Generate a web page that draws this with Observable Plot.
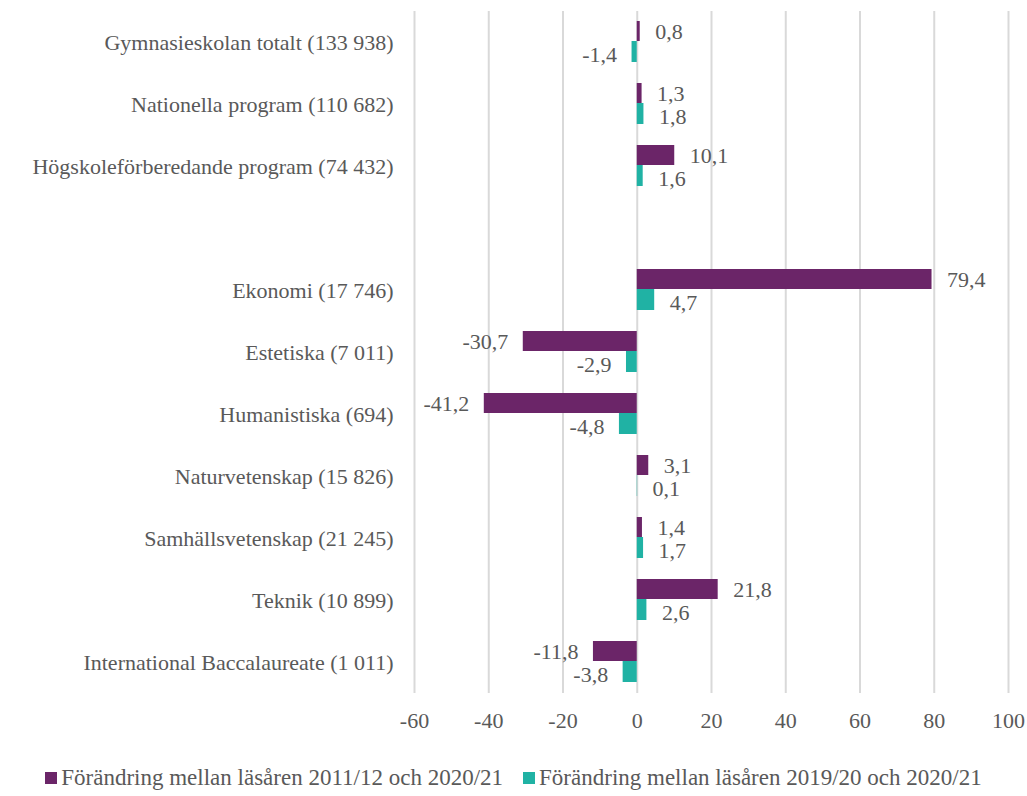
<!DOCTYPE html>
<html>
<head>
<meta charset="utf-8">
<script src="https://cdn.jsdelivr.net/npm/d3@7"></script>
<script src="https://cdn.jsdelivr.net/npm/@observablehq/plot@0.6"></script>
<style>
  body { margin: 0; background: #fff; font-family: "Liberation Serif", "Times New Roman", "DejaVu Serif", serif; color: #595959; }
  #legend { display: flex; justify-content: center; gap: 20px; margin-top: 20px; font-size: 23px; line-height: 26px; white-space: nowrap; }
  .item { display: flex; align-items: center; }
  .sw { width: 12px; height: 12px; margin-right: 4px; display: inline-block; }
  #chart svg, #chart svg text { font-family: "Liberation Serif", "Times New Roman", "DejaVu Serif", serif !important; }
</style>
</head>
<body>
<div id="chart"></div>
<div id="legend"></div>
<script>
const categories = [
  "Gymnasieskolan totalt (133 938)",
  "Nationella program (110 682)",
  "Högskoleförberedande program (74 432)",
  "",
  "Ekonomi (17 746)",
  "Estetiska (7 011)",
  "Humanistiska (694)",
  "Naturvetenskap (15 826)",
  "Samhällsvetenskap (21 245)",
  "Teknik (10 899)",
  "International Baccalaureate (1 011)"
];
const change2011 = [0.8, 1.3, 10.1, null, 79.4, -30.7, -41.2, 3.1, 1.4, 21.8, -11.8];
const change2019 = [-1.4, 1.8, 1.6, null, 4.7, -2.9, -4.8, 0.1, 1.7, 2.6, -3.8];
const seriesNames = [
  "Förändring mellan läsåren 2011/12 och 2020/21",
  "Förändring mellan läsåren 2019/20 och 2020/21"
];
const colors = ["#6B2568", "#20B2A4"];
const xTicks = [-60, -40, -20, 0, 20, 40, 60, 80, 100];

const fmt = v => v.toFixed(1).replace(".", ",");
const rows = categories.map((c, i) => ({category: c, a: change2011[i], b: change2019[i]}));
const dataA = rows.filter(d => d.a != null);
const dataB = rows.filter(d => d.b != null);
const txt = "#595959";
const fs = 22;

const chart = Plot.plot({
  width: 1027,
  height: 745,
  marginLeft: 414,
  marginRight: 19,
  marginTop: 11,
  marginBottom: 52,
  x: {domain: [-60, 100]},
  y: {domain: categories, padding: 0},
  style: {fontSize: "22px", color: txt, background: "#fff"},
  marks: [
    Plot.ruleX(xTicks, {stroke: "#d9d9d9", strokeWidth: 2}),
    Plot.barX(dataA, {x1: 0, x2: "a", y: "category", fill: colors[0], insetTop: 10, insetBottom: 32}),
    Plot.barX(dataB, {x1: 0, x2: "b", y: "category", fill: colors[1], insetTop: 30, insetBottom: 11}),
    Plot.text(dataA.filter(d => d.a >= 0), {x: "a", y: "category", text: d => fmt(d.a), textAnchor: "start", dx: 15, dy: -11, fill: txt, fontSize: fs}),
    Plot.text(dataA.filter(d => d.a < 0), {x: "a", y: "category", text: d => fmt(d.a), textAnchor: "end", dx: -15, dy: -11, fill: txt, fontSize: fs}),
    Plot.text(dataB.filter(d => d.b >= 0), {x: "b", y: "category", text: d => fmt(d.b), textAnchor: "start", dx: 15, dy: 12, fill: txt, fontSize: fs}),
    Plot.text(dataB.filter(d => d.b < 0), {x: "b", y: "category", text: d => fmt(d.b), textAnchor: "end", dx: -15, dy: 12, fill: txt, fontSize: fs}),
    Plot.axisY({tickSize: 0, tickPadding: 21, label: null, fontSize: fs}),
    Plot.axisX({ticks: xTicks, tickSize: 0, tickPadding: 19, label: null, tickFormat: d => String(d), fontSize: fs})
  ]
});
document.getElementById("chart").appendChild(chart);

const legend = document.getElementById("legend");
seriesNames.forEach((name, i) => {
  const item = document.createElement("div");
  item.className = "item";
  const sw = document.createElement("span");
  sw.className = "sw";
  sw.style.background = colors[i];
  item.appendChild(sw);
  item.appendChild(document.createTextNode(name));
  legend.appendChild(item);
});
</script>
</body>
</html>
